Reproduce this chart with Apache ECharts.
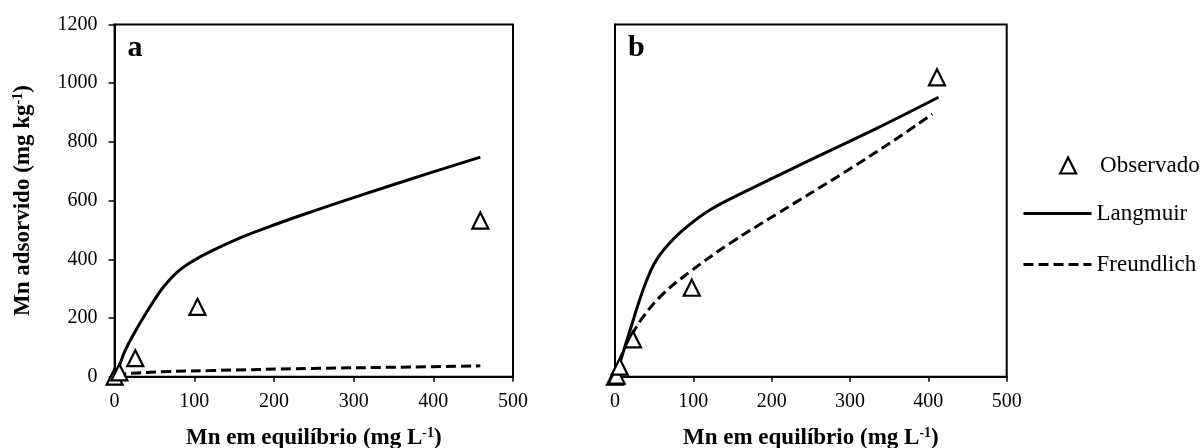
<!DOCTYPE html>
<html>
<head>
<meta charset="utf-8">
<script src="https://cdn.jsdelivr.net/npm/echarts@6/dist/echarts.min.js"></script>
<style>html,body{margin:0;padding:0;background:#fff}#chart{width:1201px;height:448px}</style>
</head>
<body>
<div id="chart"></div>
<script>
// painel a
const obsA = [[0, 0], [6, 15], [26, 63], [104, 238], [459, 532]]
const langA = [[0, 0], [5, 30], [13, 88], [26, 155], [38, 210], [50, 262], [62, 308], [78, 355], [97, 392], [120, 426], [162, 478], [205, 522], [245, 560], [300, 610], [370, 672], [459, 748]]
const freA = [[2, 4], [11, 9], [30, 13], [60, 17], [120, 21], [245, 28], [371, 33], [459, 37]]
// painel b
const obsB = [[0, 0], [2, 4], [6, 34], [23, 127], [98, 303], [411, 1020]]
const langB = [[0, 0], [3, 18], [10, 80], [20, 165], [30, 250], [40, 325], [50, 385], [62, 432], [87, 500], [121, 568], [164, 628], [249, 738], [334, 846], [413, 952]]
const freB = [[0, 0], [6, 57], [20, 135], [36, 204], [62, 284], [96, 358], [147, 455], [207, 555], [292, 695], [356, 805], [405, 895]]

const panels = ['a', 'b']
const xRange = [0, 500, 100]
const yRange = [0, 1200, 200]
const names = ['Observado', 'Langmuir', 'Freundlich']

const font = '"Liberation Serif", "Times New Roman", serif'
const sup = {fontSize: 14, fontWeight: 'bold', fontFamily: font, verticalAlign: 'top', color: '#000'}

const chart = echarts.init(document.getElementById('chart'))

const grids = [
    {left: 114.6, top: 24.5, width: 398.4, height: 352.2},
    {left: 615, top: 24.5, width: 391.7, height: 352.2}
]

const xAxis = grids.map((g, i) => ({
    type: 'value', gridIndex: i, min: xRange[0], max: xRange[1], interval: xRange[2],
    name: 'Mn em equilíbrio (mg L{s|-1})', nameLocation: 'middle', nameGap: 50, nameMoveOverlap: false,
    nameTextStyle: {fontFamily: font, fontWeight: 'bold', fontSize: 23, color: '#000', rich: {s: sup}},
    axisLine: {lineStyle: {color: '#000', width: 2}},
    axisTick: {show: true, length: 5, lineStyle: {color: '#000', width: 1.5}},
    axisLabel: {fontFamily: font, fontSize: 20, color: '#000', margin: 15},
    splitLine: {show: false}
}))

const yAxis = grids.map((g, i) => ({
    type: 'value', gridIndex: i, min: yRange[0], max: yRange[1], interval: yRange[2],
    name: i === 0 ? 'Mn adsorvido (mg kg{s|-1})' : '', nameLocation: 'middle', nameGap: 80, nameMoveOverlap: false,
    nameTextStyle: {fontFamily: font, fontWeight: 'bold', fontSize: 23, color: '#000', rich: {s: sup}},
    axisLine: {lineStyle: {color: '#000', width: 2}},
    axisTick: {show: i === 0, length: 6, lineStyle: {color: '#000', width: 1.5}},
    axisLabel: {show: i === 0, fontFamily: font, fontSize: 20, color: '#000', margin: 17, formatter: v => String(v)},
    splitLine: {show: false}
}))

const scatter = (data, i) => ({
    name: names[0], type: 'scatter', xAxisIndex: i, yAxisIndex: i, data,
    symbol: 'triangle', symbolSize: 16, z: 5,
    itemStyle: {color: '#fff', borderColor: '#000', borderWidth: 2.2, opacity: 1}
})
const curve = (name, data, i, dashed) => ({
    name, type: 'line', xAxisIndex: i, yAxisIndex: i, data, smooth: 0.4,
    symbol: 'none', z: 3,
    itemStyle: {color: '#000'},
    lineStyle: {color: '#000', width: 3, type: dashed ? [10, 5] : 'solid'}
})

const legendText = {fontFamily: font, fontSize: 23, color: '#000'}
const hiddenDot = {color: 'rgba(0,0,0,0)', borderWidth: 0, opacity: 0}

chart.setOption({
    animation: false,
    backgroundColor: '#fff',
    grid: grids.map(g => Object.assign({show: true, borderColor: '#000', borderWidth: 2, outerBoundsMode: 'none', containLabel: false}, g)),
    xAxis,
    yAxis,
    legend: [
        {data: [{name: names[0], icon: 'path://M5,0 L10,10 L0,10 Z'}], left: 1059, top: 154, padding: 0,
            itemWidth: 54, itemHeight: 16, textStyle: legendText,
            itemStyle: {color: '#fff', borderColor: '#000', borderWidth: 2.2, opacity: 1}},
        {data: [names[1]], left: 1022, top: 202, padding: 0, itemWidth: 68, itemHeight: 14,
            textStyle: legendText, itemStyle: hiddenDot, lineStyle: {width: 3, color: '#000'}},
        {data: [names[2]], left: 1022, top: 253, padding: 0, itemWidth: 68, itemHeight: 14,
            textStyle: legendText, itemStyle: hiddenDot, lineStyle: {width: 3, color: '#000', type: [10, 5]}}
    ],
    graphic: panels.map((p, i) => ({
        type: 'text', left: grids[i].left + 13, top: 33,
        style: {text: p, font: 'bold 30px ' + font, fill: '#000'}
    })),
    series: [
        curve(names[1], langA, 0, false),
        curve(names[2], freA, 0, true),
        scatter(obsA, 0),
        curve(names[1], langB, 1, false),
        curve(names[2], freB, 1, true),
        scatter(obsB, 1)
    ]
})
</script>
</body>
</html>
